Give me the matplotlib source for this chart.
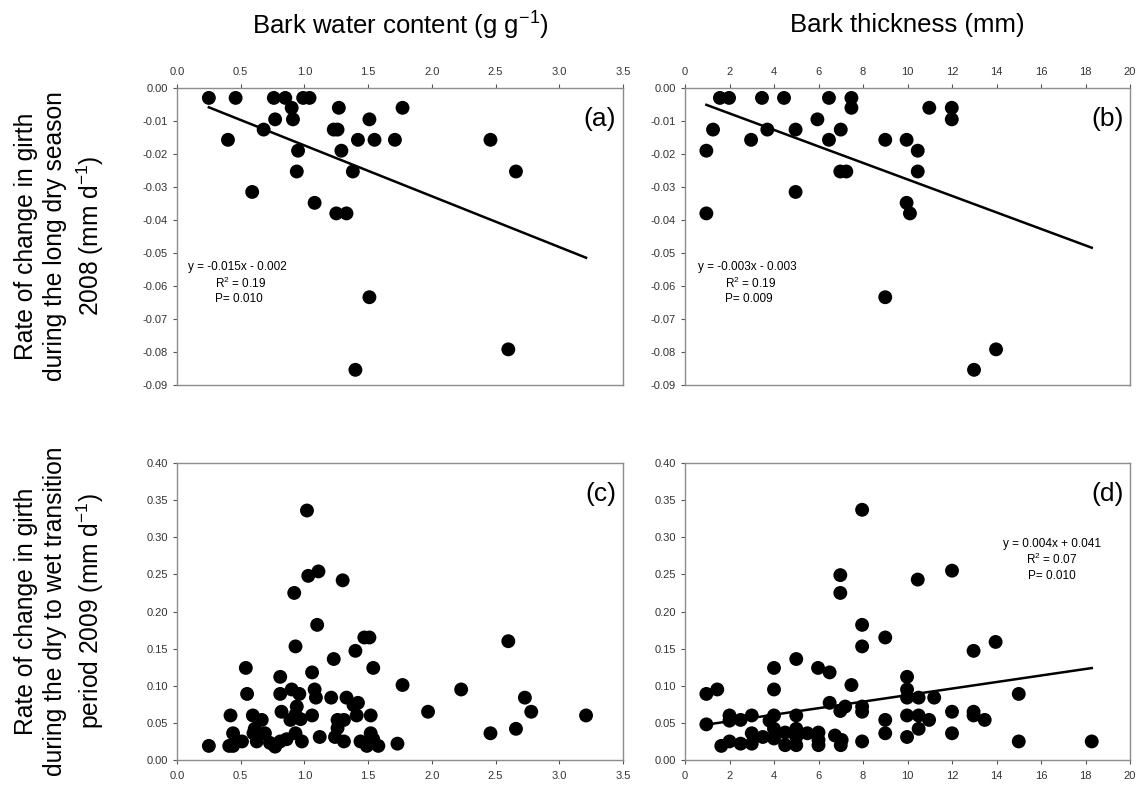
import numpy as np
import matplotlib
matplotlib.use("Agg")
import matplotlib.pyplot as plt
from matplotlib.ticker import FormatStrFormatter

plt.rcParams['font.family'] = ['Liberation Sans', 'DejaVu Sans']

# panel (a): bark water content vs girth change, long dry season 2008
wc_dry = [0.25, 0.46, 0.76, 0.85, 0.99, 1.04, 0.90, 1.27, 1.77, 0.77, 0.91, 1.51,
          0.68, 1.23, 1.26, 0.40, 1.42, 1.55, 1.71, 2.46, 0.95, 1.29, 0.94, 1.38,
          2.66, 0.59, 1.08, 1.25, 1.33, 1.51, 2.60, 1.40]
rate_dry_a = [-0.003, -0.003, -0.003, -0.003, -0.003, -0.003, -0.006, -0.006, -0.006,
              -0.0095, -0.0095, -0.0095, -0.0126, -0.0126, -0.0126, -0.0157, -0.0157,
              -0.0157, -0.0157, -0.0157, -0.019, -0.019, -0.0253, -0.0253, -0.0253,
              -0.0315, -0.0348, -0.038, -0.038, -0.0634, -0.0792, -0.0854]

# panel (b): bark thickness vs girth change, long dry season 2008
bt_dry = [1.57, 1.98, 3.46, 4.45, 6.47, 7.48, 7.48, 10.98, 11.99, 5.95, 11.99, 1.26,
          3.70, 4.97, 7.0, 2.97, 6.47, 9.0, 9.96, 0.96, 10.46, 6.98, 7.25, 10.46,
          4.97, 9.96, 10.11, 0.96, 9.0, 13.98, 12.99]
rate_dry_b = [-0.003, -0.003, -0.003, -0.003, -0.003, -0.003, -0.006, -0.006, -0.006,
              -0.0095, -0.0095, -0.0126, -0.0126, -0.0126, -0.0126, -0.0157, -0.0157,
              -0.0157, -0.0157, -0.019, -0.019, -0.0253, -0.0253, -0.0253, -0.0315,
              -0.0348, -0.038, -0.038, -0.0634, -0.0792, -0.0854]

# panel (c): bark water content vs girth change, dry to wet transition 2009
wc_wet = [1.02, 1.03, 1.11, 1.30, 0.92, 1.10, 1.47, 1.51, 2.60, 0.93, 1.40, 1.23,
          0.54, 1.54, 1.06, 0.81, 1.77, 0.90, 1.08, 2.23, 0.55, 0.81, 0.96, 1.09,
          1.21, 1.33, 2.73, 1.385, 1.42, 0.94, 0.82, 1.97, 2.78, 0.42, 0.595, 1.06,
          1.41, 1.52, 3.21, 0.93, 0.665, 0.89, 0.97, 1.26, 1.31, 0.61, 2.66, 1.26,
          0.44, 0.69, 0.93, 1.52, 2.46, 0.60, 1.12, 1.24, 0.86, 1.54, 0.51, 0.626,
          0.81, 0.98, 1.31, 1.44, 0.73, 0.25, 0.41, 0.44, 0.77, 1.49, 1.58, 1.73]
rate_wet_c = [0.336, 0.248, 0.254, 0.242, 0.225, 0.182, 0.165, 0.165, 0.160, 0.153,
              0.147, 0.136, 0.124, 0.124, 0.118, 0.112, 0.101, 0.095, 0.095, 0.095,
              0.089, 0.089, 0.089, 0.084, 0.084, 0.084, 0.084, 0.074, 0.077, 0.072,
              0.065, 0.065, 0.065, 0.060, 0.060, 0.060, 0.060, 0.060, 0.060, 0.061,
              0.054, 0.054, 0.055, 0.054, 0.054, 0.042, 0.042, 0.043, 0.036, 0.036,
              0.036, 0.036, 0.036, 0.036, 0.031, 0.031, 0.028, 0.028, 0.025, 0.025,
              0.025, 0.025, 0.025, 0.025, 0.023, 0.019, 0.019, 0.019, 0.018, 0.019,
              0.019, 0.022]

# panel (d): bark thickness vs girth change, dry to wet transition 2009
bt_wet = [7.96, 6.98, 6.98, 10.46, 12.0, 7.96, 9.0, 7.96, 13.96, 12.97, 5.0, 4.0,
          5.98, 6.5, 9.98, 7.48, 0.96, 1.45, 4.0, 9.98, 15.0, 9.98, 10.5, 11.2, 6.5,
          7.2, 7.96, 7.96, 6.98, 12.0, 12.97, 12.97, 2.0, 3.0, 4.0, 5.0, 9.98, 10.5,
          2.0, 2.5, 3.8, 9.0, 10.97, 13.47, 0.96, 4.0, 5.0, 10.5, 3.0, 4.5, 5.5, 6.0,
          9.0, 12.0, 6.74, 3.5, 4.0, 5.0, 6.0, 9.98, 2.0, 2.5, 3.0, 7.04, 7.96, 15.0,
          18.28, 1.63, 4.5, 5.0, 6.0, 7.0]
rate_wet_d = [0.337, 0.249, 0.225, 0.243, 0.255, 0.182, 0.165, 0.153, 0.159, 0.147,
              0.136, 0.124, 0.124, 0.118, 0.112, 0.101, 0.089, 0.095, 0.095, 0.095,
              0.089, 0.084, 0.084, 0.084, 0.077, 0.072, 0.072, 0.065, 0.066, 0.065,
              0.065, 0.060, 0.060, 0.060, 0.060, 0.060, 0.060, 0.060, 0.053, 0.054,
              0.053, 0.054, 0.054, 0.054, 0.048, 0.042, 0.042, 0.042, 0.036, 0.037,
              0.036, 0.037, 0.036, 0.036, 0.033, 0.031, 0.029, 0.031, 0.027, 0.031,
              0.025, 0.022, 0.022, 0.027, 0.025, 0.025, 0.025, 0.019, 0.020, 0.020,
              0.020, 0.020]

# regression lines (slope, intercept)
fit_a = (-0.0154, -0.0020)
fit_b = (-0.0025, -0.0027)
fit_d = (0.0044, 0.0434)

eq_a = ["y = -0.015x - 0.002", "R$^{\\mathregular{2}}$ = 0.19", "P= 0.010"]
eq_b = ["y = -0.003x - 0.003", "R$^{\\mathregular{2}}$ = 0.19", "P= 0.009"]
eq_d = ["y = 0.004x + 0.041", "R$^{\\mathregular{2}}$ = 0.07", "P= 0.010"]

# axis ticks
wc_ticks = [0.0, 0.5, 1.0, 1.5, 2.0, 2.5, 3.0, 3.5]
bt_ticks = [0, 2, 4, 6, 8, 10, 12, 14, 16, 18, 20]
dry_ticks = [0.00, -0.01, -0.02, -0.03, -0.04, -0.05, -0.06, -0.07, -0.08, -0.09]
wet_ticks = [0.00, 0.05, 0.10, 0.15, 0.20, 0.25, 0.30, 0.35, 0.40]

col_titles = ["Bark water content (g g$^{\\mathregular{-1}}$)", "Bark thickness (mm)"]
row_labels = ["Rate of change in girth\nduring the long dry season\n2008 (mm d$^{\\mathregular{-1}}$)",
              "Rate of change in girth\nduring the dry to wet transition\nperiod 2009 (mm d$^{\\mathregular{-1}}$)"]

fig = plt.figure(figsize=(11.4, 7.95), dpi=100)
W, H = 1140.0, 795.0

def make_ax(l, r, t, b):
    return fig.add_axes([l / W, 1 - b / H, (r - l) / W, (b - t) / H])

ax_a = make_ax(177, 623, 88, 385)
ax_b = make_ax(685, 1130, 88, 385)
ax_c = make_ax(177, 623, 463, 760)
ax_d = make_ax(685, 1130, 463, 760)

spine_col = '#8c8c8c'
for ax in [ax_a, ax_b, ax_c, ax_d]:
    for s in ax.spines.values():
        s.set_color(spine_col)
        s.set_linewidth(1.0)
    ax.tick_params(direction='out', length=3, width=0.8, color='#555555',
                   labelsize=8, labelcolor='#333333')
    ax.tick_params(axis='x', pad=5)

def fit_line(ax, fit, xs):
    xx = np.array([min(xs), max(xs)])
    ax.plot(xx, fit[0] * xx + fit[1], color='black', lw=1.8, zorder=2)

dot = dict(s=100, color='black', edgecolors='none', zorder=3)

# top row
for ax, x, y in [(ax_a, wc_dry, rate_dry_a), (ax_b, bt_dry, rate_dry_b)]:
    ax.scatter(x, y, **dot)
    ax.set_ylim(-0.09, 0.0)
    ax.set_yticks(dry_ticks)
    ax.set_yticklabels(['%.2f' % v if v != 0 else '0.00' for v in dry_ticks])
    ax.xaxis.tick_top()

# bottom row
for ax, x, y in [(ax_c, wc_wet, rate_wet_c), (ax_d, bt_wet, rate_wet_d)]:
    ax.scatter(x, y, **dot)
    ax.set_ylim(0, 0.40)
    ax.set_yticks(wet_ticks)
    ax.yaxis.set_major_formatter(FormatStrFormatter('%.2f'))

for ax in [ax_a, ax_c]:
    ax.set_xlim(0, 3.5)
    ax.set_xticks(wc_ticks)
    ax.xaxis.set_major_formatter(FormatStrFormatter('%.1f'))
for ax in [ax_b, ax_d]:
    ax.set_xlim(0, 20)
    ax.set_xticks(bt_ticks)

fit_line(ax_a, fit_a, wc_dry + wc_wet)
fit_line(ax_b, fit_b, bt_dry + bt_wet)
fit_line(ax_d, fit_d, bt_dry + bt_wet)

# panel letters
for ax, lab in zip([ax_a, ax_b, ax_c, ax_d], ["(a)", "(b)", "(c)", "(d)"]):
    ax.text(0.985, 0.895, lab, transform=ax.transAxes, ha='right', va='center',
            fontsize=19)

# equations
def eq_block(ax, lines, x0, x1, y0, dy, ha):
    ax.text(x0, y0, lines[0], ha=ha, va='center', fontsize=8.5)
    ax.text(x1, y0 - dy, lines[1], ha=ha, va='center', fontsize=8.5)
    ax.text(x1, y0 - 2 * dy, lines[2], ha=ha, va='center', fontsize=8.5)

eq_block(ax_a, eq_a, 0.09, 0.30, -0.0543, 0.0048, 'left')
eq_block(ax_b, eq_b, 0.58, 1.8, -0.0543, 0.0048, 'left')
eq_block(ax_d, eq_d, 16.5, 16.5, 0.291, 0.0215, 'center')

# column titles
fig.text(400 / W, 1 - 25 / H, col_titles[0], ha='center', va='center', fontsize=18.5)
fig.text(907 / W, 1 - 25 / H, col_titles[1], ha='center', va='center', fontsize=18.5)

# row labels
for lab, yc in zip(row_labels, [236, 611]):
    fig.text(60 / W, 1 - yc / H, lab, rotation=90, ha='center', va='center',
             multialignment='center', fontsize=17.7, linespacing=1.3)

fig.savefig("out.png", dpi=100)
